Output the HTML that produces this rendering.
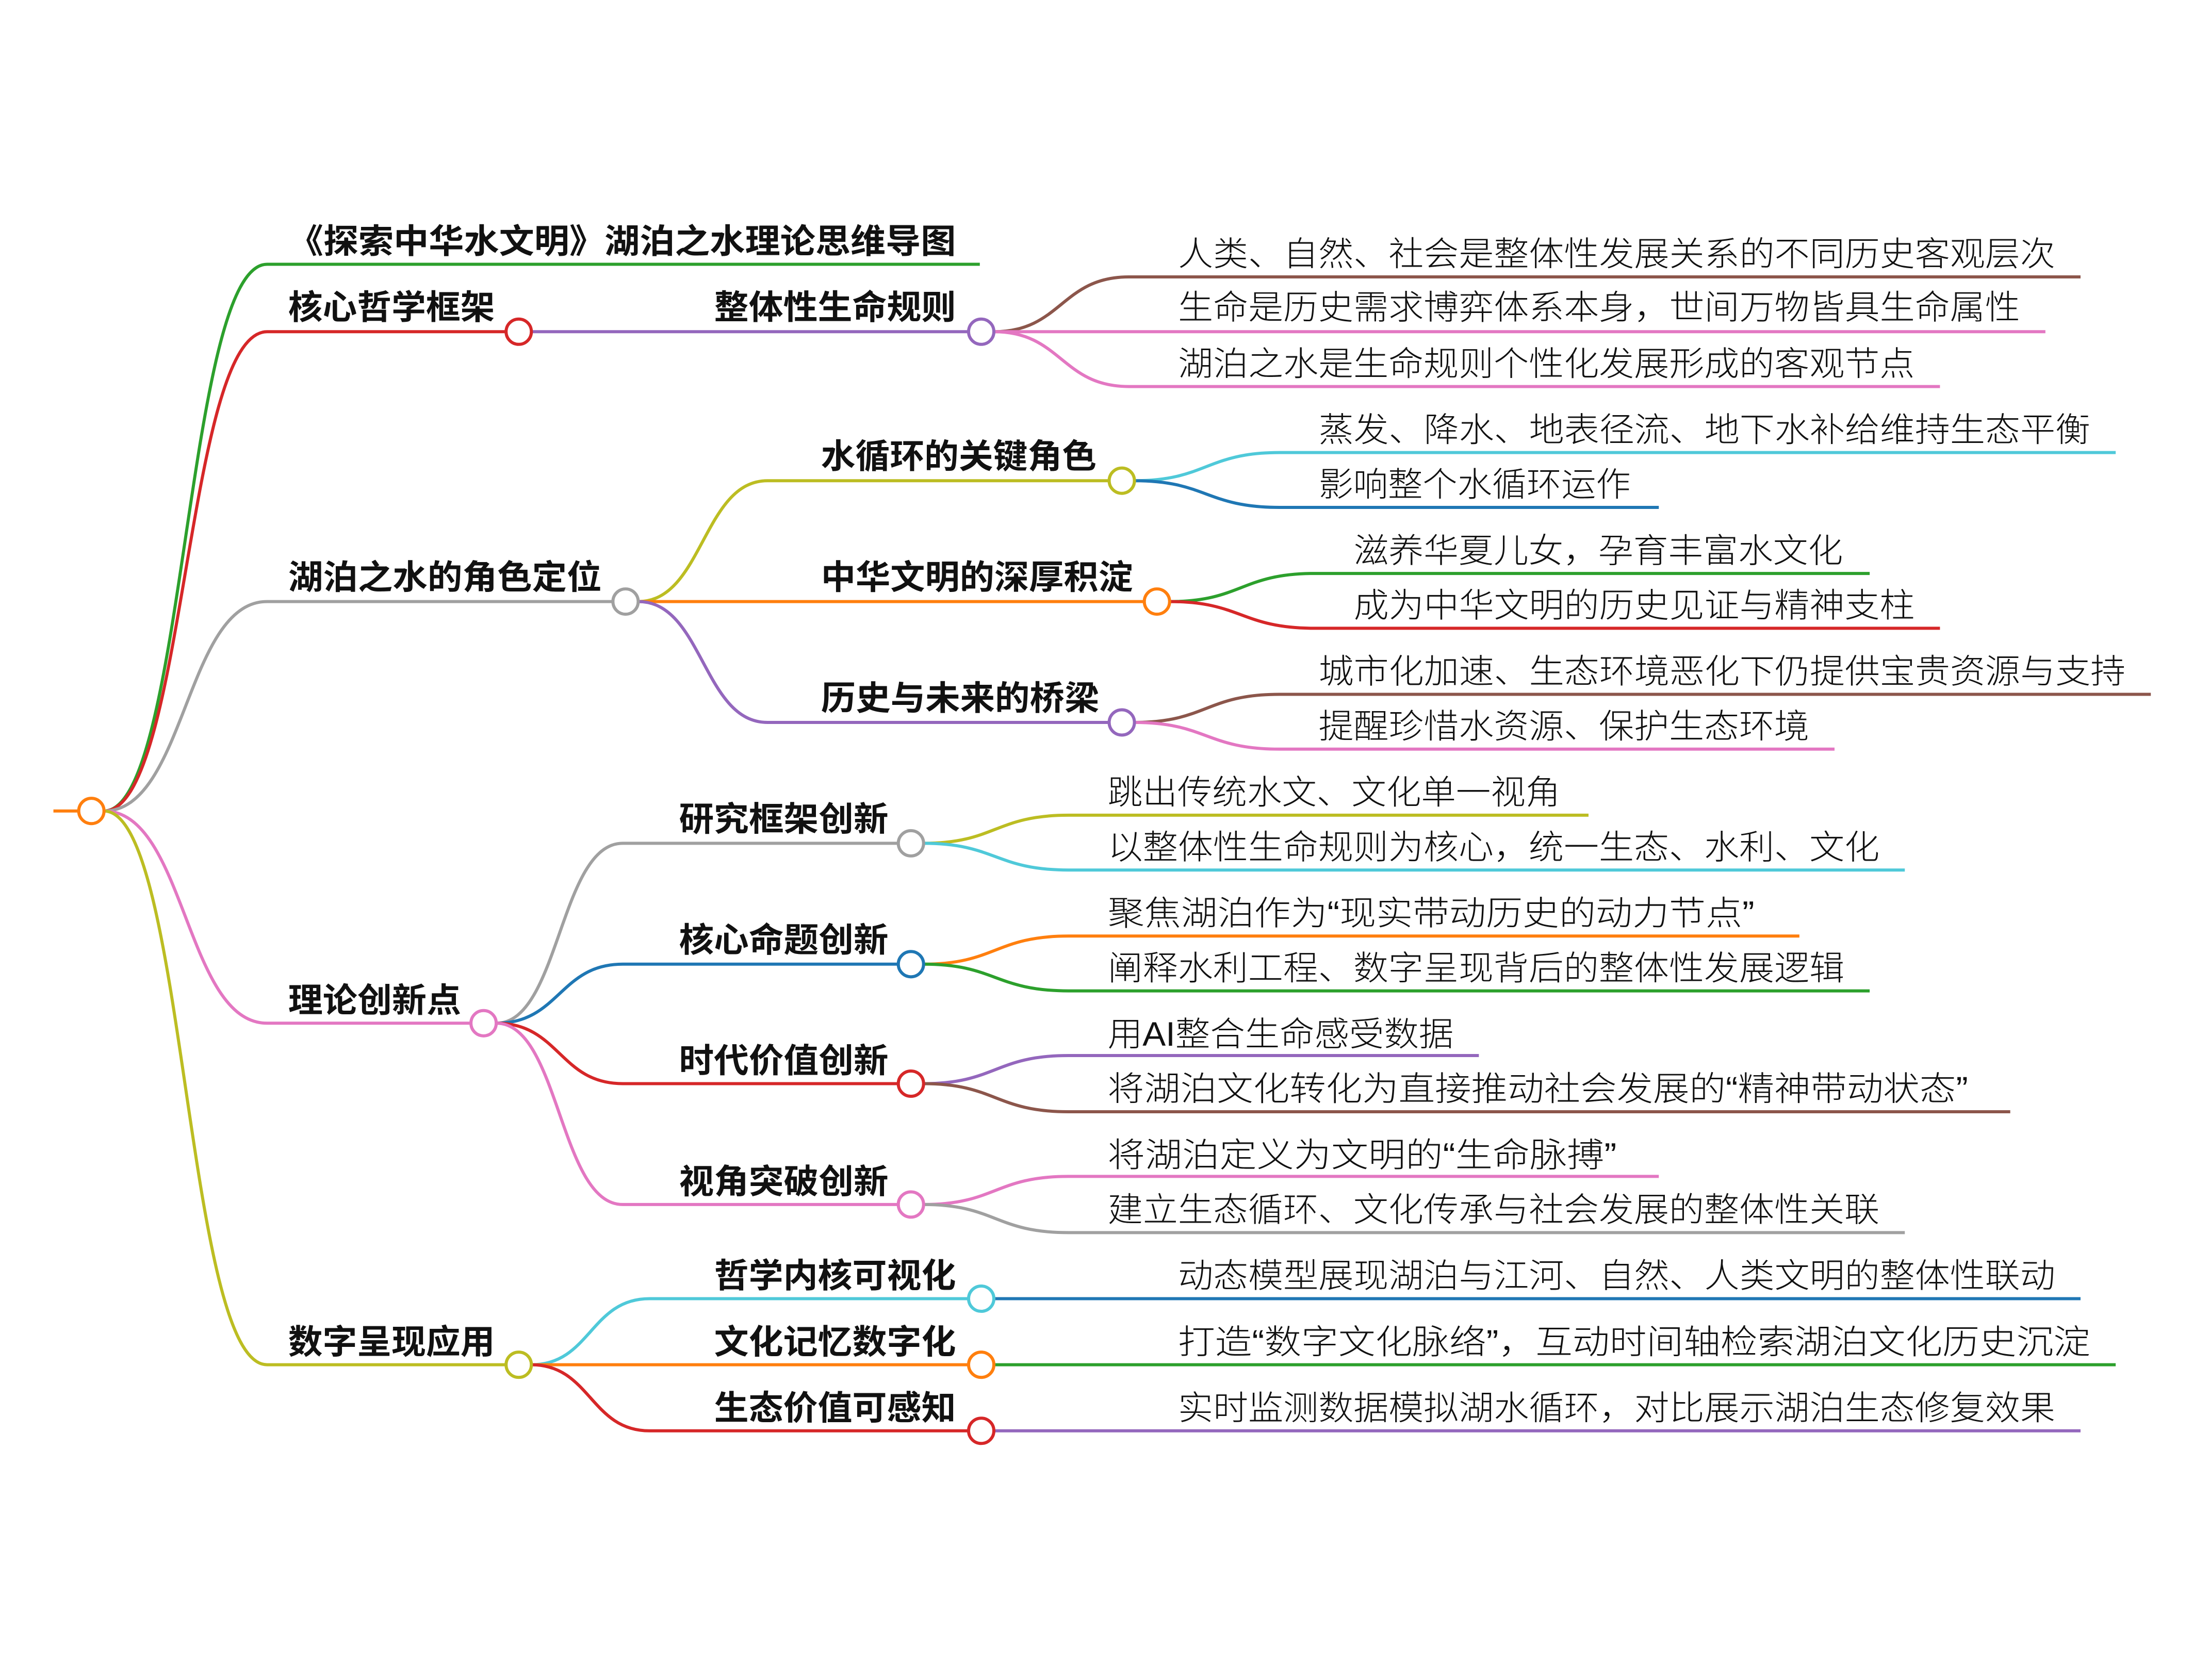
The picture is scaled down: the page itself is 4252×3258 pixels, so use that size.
<!DOCTYPE html>
<html><head><meta charset="utf-8"><style>
html,body{margin:0;padding:0;background:#fff;}
svg{display:block;}
text{font-family:"Liberation Sans","Noto Sans CJK SC",sans-serif;font-size:24px;fill:#111;}
.b{font-weight:bold;}
.r{font-weight:300;}
path{fill:none;stroke-width:2.2;}
circle{fill:#fff;stroke-width:2.2;}
</style></head><body>
<svg width="4252" height="3258" viewBox="0 0 1560 1195.3" xmlns="http://www.w3.org/2000/svg">
<!-- root -->
<path d="M38 577 H56" stroke="#ff7f0e"/>
<path d="M74 577 C132 577 132 188 190 188 H697" stroke="#2ca02c"/>
<path d="M74 577 C132 577 132 236 190 236 H360" stroke="#d62728"/>
<path d="M74 577 C132 577 132 428 190 428 H436" stroke="#a0a0a0"/>
<path d="M74 577 C132 577 132 728 190 728 H335" stroke="#e377c2"/>
<path d="M74 577 C132 577 132 971 190 971 H360" stroke="#bcbd22"/>

<!-- 核心哲学框架 -->
<path d="M378 236 H689" stroke="#9467bd"/>
<path d="M707 236 C755 236 755 197 803 197 H1480" stroke="#8c564b"/>
<path d="M707 236 H1455" stroke="#e377c2"/>
<path d="M707 236 C755 236 755 275 803 275 H1380" stroke="#e377c2"/>

<!-- 角色定位 -->
<path d="M454 428 C500 428 500 342 546 342 H789" stroke="#bcbd22"/>
<path d="M454 428 H814" stroke="#ff7f0e"/>
<path d="M454 428 C500 428 500 514 546 514 H789" stroke="#9467bd"/>
<path d="M807 342 C858 342 858 322 910 322 H1505" stroke="#4fc9d9"/>
<path d="M807 342 C858 342 858 361 910 361 H1180" stroke="#1f77b4"/>
<path d="M832 428 C883 428 883 408 935 408 H1330" stroke="#2ca02c"/>
<path d="M832 428 C883 428 883 447 935 447 H1380" stroke="#d62728"/>
<path d="M807 514 C858 514 858 494 910 494 H1530" stroke="#8c564b"/>
<path d="M807 514 C858 514 858 533 910 533 H1305" stroke="#e377c2"/>

<!-- 理论创新点 -->
<path d="M353 728 C398 728 398 600 443 600 H639" stroke="#a0a0a0"/>
<path d="M353 728 C398 728 398 686 443 686 H639" stroke="#1f77b4"/>
<path d="M353 728 C398 728 398 771 443 771 H639" stroke="#d62728"/>
<path d="M353 728 C398 728 398 857 443 857 H639" stroke="#e377c2"/>
<path d="M657 600 C708 600 708 580 760 580 H1130" stroke="#bcbd22"/>
<path d="M657 600 C708 600 708 619 760 619 H1355" stroke="#4fc9d9"/>
<path d="M657 686 C708 686 708 666 760 666 H1280" stroke="#ff7f0e"/>
<path d="M657 686 C708 686 708 705 760 705 H1330" stroke="#2ca02c"/>
<path d="M657 771 C708 771 708 751 760 751 H1052" stroke="#9467bd"/>
<path d="M657 771 C708 771 708 791 760 791 H1430" stroke="#8c564b"/>
<path d="M657 857 C708 857 708 837 760 837 H1180" stroke="#e377c2"/>
<path d="M657 857 C708 857 708 877 760 877 H1355" stroke="#a0a0a0"/>

<!-- 数字呈现应用 -->
<path d="M378 971 C420 971 420 924 462 924 H689" stroke="#4fc9d9"/>
<path d="M378 971 H689" stroke="#ff7f0e"/>
<path d="M378 971 C420 971 420 1018 462 1018 H689" stroke="#d62728"/>
<path d="M707 924 H1480" stroke="#1f77b4"/>
<path d="M707 971 H1505" stroke="#2ca02c"/>
<path d="M707 1018 H1480" stroke="#9467bd"/>

<!-- circles -->
<circle cx="65" cy="577" r="9" stroke="#ff7f0e"/>
<circle cx="369" cy="236" r="9" stroke="#d62728"/>
<circle cx="698" cy="236" r="9" stroke="#9467bd"/>
<circle cx="445" cy="428" r="9" stroke="#a0a0a0"/>
<circle cx="798" cy="342" r="9" stroke="#bcbd22"/>
<circle cx="823" cy="428" r="9" stroke="#ff7f0e"/>
<circle cx="798" cy="514" r="9" stroke="#9467bd"/>
<circle cx="344" cy="728" r="9" stroke="#e377c2"/>
<circle cx="648" cy="600" r="9" stroke="#a0a0a0"/>
<circle cx="648" cy="686" r="9" stroke="#1f77b4"/>
<circle cx="648" cy="771" r="9" stroke="#d62728"/>
<circle cx="648" cy="857" r="9" stroke="#e377c2"/>
<circle cx="369" cy="971" r="9" stroke="#bcbd22"/>
<circle cx="698" cy="924" r="9" stroke="#4fc9d9"/>
<circle cx="698" cy="971" r="9" stroke="#ff7f0e"/>
<circle cx="698" cy="1018" r="9" stroke="#d62728"/>

<!-- bold labels -->
<text class="b" x="205" y="180" textLength="475" lengthAdjust="spacingAndGlyphs">《探索中华水文明》湖泊之水理论思维导图</text>
<text class="b" x="205" y="227" textLength="147" lengthAdjust="spacingAndGlyphs">核心哲学框架</text>
<text class="b" x="508" y="227" textLength="172" lengthAdjust="spacingAndGlyphs">整体性生命规则</text>
<text class="b" x="205" y="419" textLength="223" lengthAdjust="spacingAndGlyphs">湖泊之水的角色定位</text>
<text class="b" x="584" y="333" textLength="196" lengthAdjust="spacingAndGlyphs">水循环的关键角色</text>
<text class="b" x="584" y="419" textLength="222" lengthAdjust="spacingAndGlyphs">中华文明的深厚积淀</text>
<text class="b" x="584" y="505" textLength="198" lengthAdjust="spacingAndGlyphs">历史与未来的桥梁</text>
<text class="b" x="205" y="720" textLength="123" lengthAdjust="spacingAndGlyphs">理论创新点</text>
<text class="b" x="483" y="591" textLength="149" lengthAdjust="spacingAndGlyphs">研究框架创新</text>
<text class="b" x="483" y="677" textLength="149" lengthAdjust="spacingAndGlyphs">核心命题创新</text>
<text class="b" x="483" y="763" textLength="149" lengthAdjust="spacingAndGlyphs">时代价值创新</text>
<text class="b" x="483" y="849" textLength="149" lengthAdjust="spacingAndGlyphs">视角突破创新</text>
<text class="b" x="205" y="963" textLength="147" lengthAdjust="spacingAndGlyphs">数字呈现应用</text>
<text class="b" x="508" y="916" textLength="172" lengthAdjust="spacingAndGlyphs">哲学内核可视化</text>
<text class="b" x="508" y="963" textLength="172" lengthAdjust="spacingAndGlyphs">文化记忆数字化</text>
<text class="b" x="508" y="1010" textLength="172" lengthAdjust="spacingAndGlyphs">生态价值可感知</text>

<!-- leaf labels -->
<text class="r" x="838" y="189" textLength="624" lengthAdjust="spacingAndGlyphs">人类、自然、社会是整体性发展关系的不同历史客观层次</text>
<text class="r" x="838" y="227" textLength="599" lengthAdjust="spacingAndGlyphs">生命是历史需求博弈体系本身，世间万物皆具生命属性</text>
<text class="r" x="838" y="267" textLength="524" lengthAdjust="spacingAndGlyphs">湖泊之水是生命规则个性化发展形成的客观节点</text>
<text class="r" x="938" y="314" textLength="549" lengthAdjust="spacingAndGlyphs">蒸发、降水、地表径流、地下水补给维持生态平衡</text>
<text class="r" x="938" y="353" textLength="222" lengthAdjust="spacingAndGlyphs">影响整个水循环运作</text>
<text class="r" x="963" y="400" textLength="348" lengthAdjust="spacingAndGlyphs">滋养华夏儿女，孕育丰富水文化</text>
<text class="r" x="963" y="439" textLength="399" lengthAdjust="spacingAndGlyphs">成为中华文明的历史见证与精神支柱</text>
<text class="r" x="938" y="486" textLength="574" lengthAdjust="spacingAndGlyphs">城市化加速、生态环境恶化下仍提供宝贵资源与支持</text>
<text class="r" x="938" y="525" textLength="349" lengthAdjust="spacingAndGlyphs">提醒珍惜水资源、保护生态环境</text>
<text class="r" x="788" y="572" textLength="322" lengthAdjust="spacingAndGlyphs">跳出传统水文、文化单一视角</text>
<text class="r" x="788" y="611" textLength="549" lengthAdjust="spacingAndGlyphs">以整体性生命规则为核心，统一生态、水利、文化</text>
<text class="r" x="788" y="658" textLength="460" lengthAdjust="spacingAndGlyphs">聚焦湖泊作为“现实带动历史的动力节点”</text>
<text class="r" x="788" y="697" textLength="524" lengthAdjust="spacingAndGlyphs">阐释水利工程、数字呈现背后的整体性发展逻辑</text>
<text class="r" x="788" y="744" textLength="246" lengthAdjust="spacingAndGlyphs">用AI整合生命感受数据</text>
<text class="r" x="788" y="783" textLength="612" lengthAdjust="spacingAndGlyphs">将湖泊文化转化为直接推动社会发展的“精神带动状态”</text>
<text class="r" x="788" y="830" textLength="362" lengthAdjust="spacingAndGlyphs">将湖泊定义为文明的“生命脉搏”</text>
<text class="r" x="788" y="869" textLength="549" lengthAdjust="spacingAndGlyphs">建立生态循环、文化传承与社会发展的整体性关联</text>
<text class="r" x="838" y="916" textLength="624" lengthAdjust="spacingAndGlyphs">动态模型展现湖泊与江河、自然、人类文明的整体性联动</text>
<text class="r" x="838" y="963" textLength="649" lengthAdjust="spacingAndGlyphs">打造“数字文化脉络”，互动时间轴检索湖泊文化历史沉淀</text>
<text class="r" x="838" y="1010" textLength="624" lengthAdjust="spacingAndGlyphs">实时监测数据模拟湖水循环，对比展示湖泊生态修复效果</text>
</svg>
</body></html>
